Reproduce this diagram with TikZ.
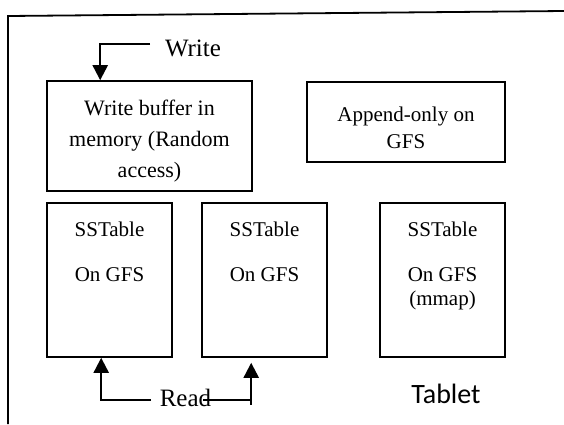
\documentclass[tikz,border=0pt]{standalone}
\usepackage{fontspec}
\setmainfont{Liberation Serif}
\newfontfamily\tabletfont{Carlito}
\usetikzlibrary{positioning, arrows.meta}

\begin{document}
\begin{tikzpicture}[x=1pt, y=-1pt,
    box/.style={draw, line width=1.6pt, inner sep=0pt},
    boxtext/.style={align=center, inner sep=0pt, font=\fontsize{21}{24}\selectfont},
    lbl/.style={anchor=base, inner sep=0pt, font=\fontsize{25}{28}\selectfont},
    link/.style={line width=2.2pt},
    arr/.style={line width=2.2pt, -{Triangle[length=15pt, width=15pt]}}]
    \useasboundingbox (0,0) rectangle (564,424);

    % outer frame, open at right and bottom
    \draw[line width=1.8pt] (8,424) -- (8,16) -- (564,11);

    % memory and log
    \node[box, minimum width=205pt, minimum height=110pt] (wbuf) at (149.5,136) {};
    \node[boxtext, font=\fontsize{22}{31}\selectfont] (wbuftext) at (149.5,141) {Write buffer in\\memory (Random\\access)};
    \node[box, minimum width=198pt, minimum height=80pt] (applog) at (406,122) {};
    \node[boxtext, font=\fontsize{21}{27}\selectfont] (applogtext) at (406,128) {Append-only on\\GFS};

    % SSTables
    \node[box, minimum width=125pt, minimum height=154pt] (ss1) at (109.5,280) {};
    \node[box, minimum width=125pt, minimum height=154pt] (ss2) at (264.5,280) {};
    \node[box, minimum width=125pt, minimum height=154pt] (ss3) at (442.5,280) {};
    \node[boxtext, anchor=north] (ss1text) at ([yshift=-20pt]ss1.north) {SSTable\\[21pt]On GFS};
    \node[boxtext, anchor=north] (ss2text) at ([yshift=-20pt]ss2.north) {SSTable\\[21pt]On GFS};
    \node[boxtext, anchor=north] (ss3text) at ([yshift=-20pt]ss3.north) {SSTable\\[21pt]On GFS\\(mmap)};

    % labels
    \node[lbl] (write) at (193,56) {Write};
    \node[lbl] (read) at (185.5,406) {Read};
    \node[lbl, font=\tabletfont\fontsize{28}{30}\selectfont] (tablet) at (446,403) {Tablet};

    % write path
    \coordinate (wl) at (150,44);
    \draw[arr] (wl) -| ([xshift=54pt]wbuf.north west);

    % read paths
    \coordinate (rl) at (151,400);
    \coordinate (rr) at (203,400);
    \draw[arr] (rl) -| ([xshift=55pt]ss1.south west);
    \draw[link] (rr) -| ([xshift=50pt, yshift=-47pt]ss2.south west);
    \draw[arr] ([xshift=50pt, yshift=-47pt]ss2.south west) -- ([xshift=50pt, yshift=-5pt]ss2.south west);
\end{tikzpicture}
\end{document}
